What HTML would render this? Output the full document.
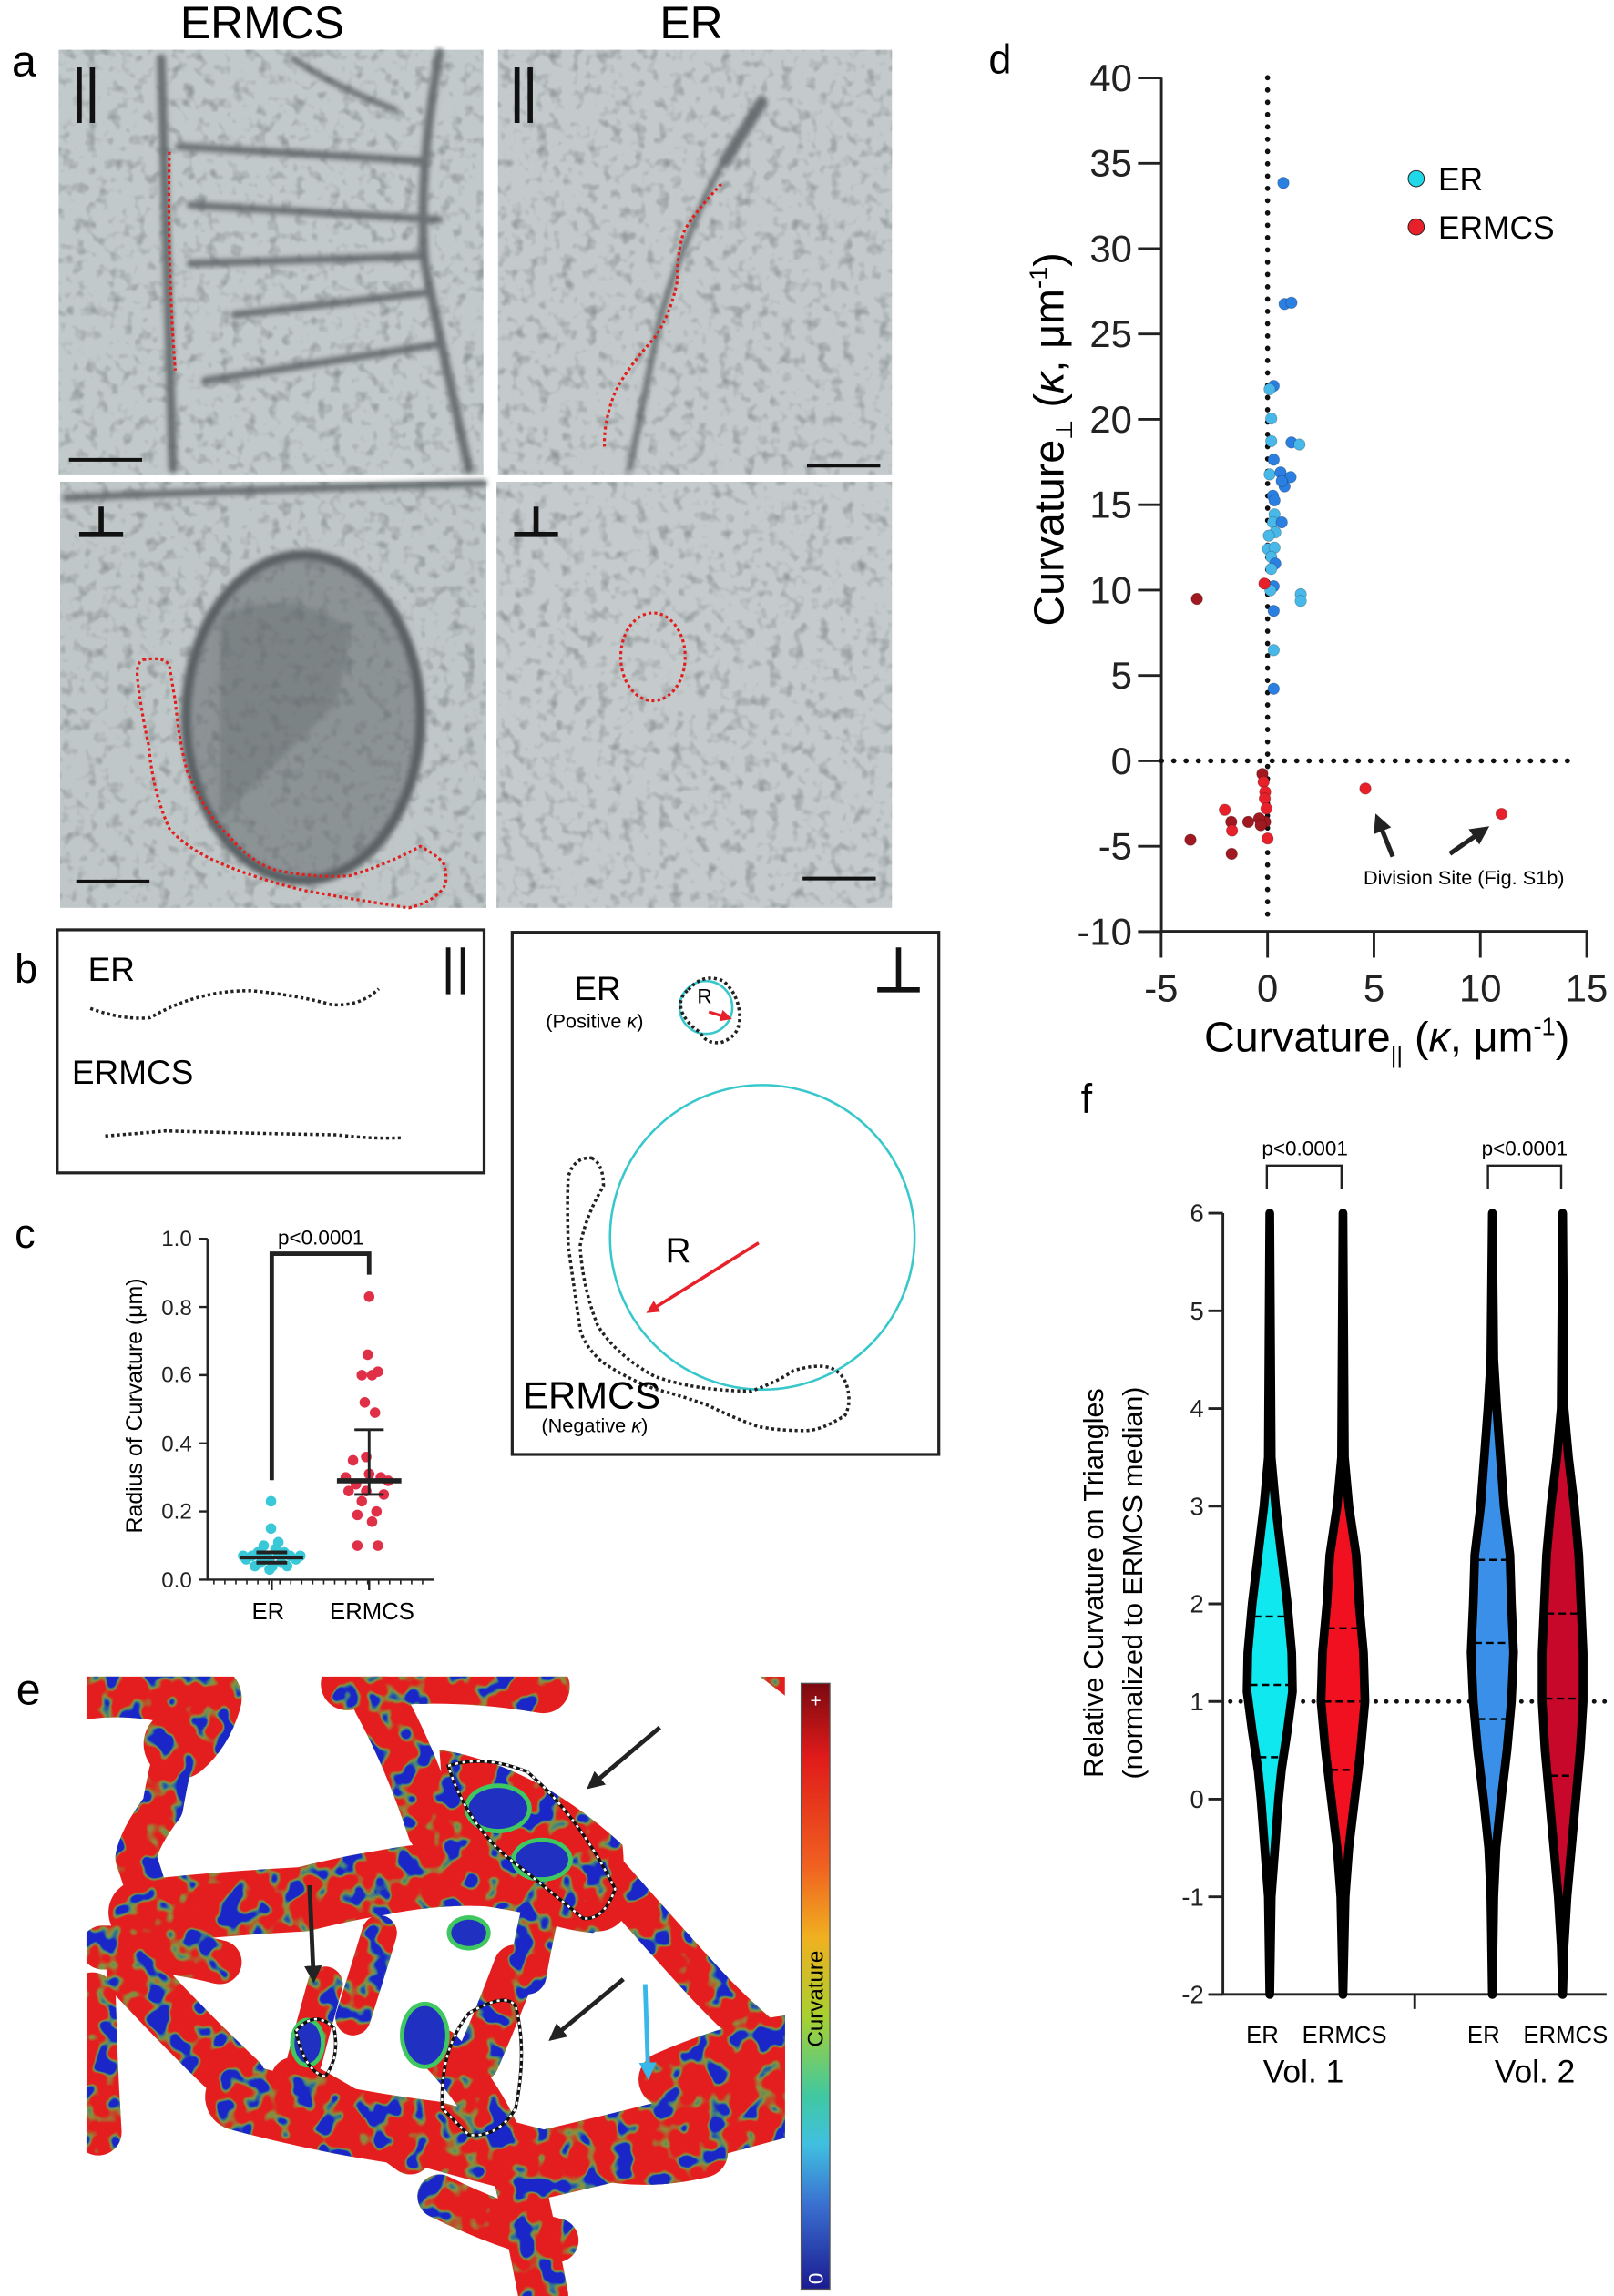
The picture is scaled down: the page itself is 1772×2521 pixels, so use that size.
<!DOCTYPE html>
<html><head><meta charset="utf-8"><style>
html,body{margin:0;padding:0;background:#fff;}
svg{display:block;}
text{font-family:"Liberation Sans",Arial,sans-serif;}
</style></head><body>
<svg id="s" xmlns="http://www.w3.org/2000/svg" width="1772" height="2521" viewBox="0 0 1102 1568">
<defs>
<filter id="noise" x="0" y="0" width="100%" height="100%" color-interpolation-filters="sRGB">
<feTurbulence type="fractalNoise" baseFrequency="0.12" numOctaves="2" seed="3" result="t"/>
<feColorMatrix in="t" type="matrix" values="0 0 0 0 0.38  0 0 0 0 0.41  0 0 0 0 0.42  -2.5 0 0 0 1.2" result="c"/>
<feComposite in="c" in2="SourceGraphic" operator="in"/>
</filter>
<filter id="bl"><feGaussianBlur stdDeviation="1.6"/></filter>
<filter id="grn" x="0" y="0" width="100%" height="100%" color-interpolation-filters="sRGB">
<feTurbulence type="fractalNoise" baseFrequency="0.06" numOctaves="2" seed="7" result="t"/>
<feColorMatrix in="t" type="matrix" values="0 0 0 0 0.35  0 0 0 0 0.82  0 0 0 0 0.3  0 -10 0 0 4.9" result="c"/>
<feComposite in="c" in2="SourceGraphic" operator="in"/>
</filter>
<filter id="blu" x="0" y="0" width="100%" height="100%" color-interpolation-filters="sRGB">
<feTurbulence type="fractalNoise" baseFrequency="0.06" numOctaves="2" seed="7" result="t"/>
<feColorMatrix in="t" type="matrix" values="0 0 0 0 0.1  0 0 0 0 0.15  0 0 0 0 0.78  0 -16 0 0 6.8" result="c"/>
<feComposite in="c" in2="SourceGraphic" operator="in"/>
</filter>
<linearGradient id="cb" x1="0" y1="0" x2="0" y2="1">
<stop offset="0" stop-color="#7a0a10"/><stop offset="0.12" stop-color="#e01a1a"/><stop offset="0.3" stop-color="#f06020"/>
<stop offset="0.42" stop-color="#f0b020"/><stop offset="0.55" stop-color="#a8d030"/><stop offset="0.68" stop-color="#40c8a0"/>
<stop offset="0.76" stop-color="#40c0e0"/><stop offset="0.86" stop-color="#3a70d0"/><stop offset="1" stop-color="#1a1a90"/>
</linearGradient>
<marker id="ah" markerWidth="4" markerHeight="4" refX="2.5" refY="2" orient="auto"><path d="M0,0 L4,2 L0,4 z" fill="#222"/></marker>
<marker id="ahr" markerWidth="4" markerHeight="4" refX="2.5" refY="2" orient="auto"><path d="M0,0 L4,2 L0,4 z" fill="#e8202a"/></marker>
<marker id="ahc" markerWidth="4" markerHeight="4" refX="2.5" refY="2" orient="auto"><path d="M0,0 L4,2 L0,4 z" fill="#38b8e8"/></marker>
</defs>

<!-- Panel a -->
<text x="8" y="52" font-size="30">a</text>
<text x="179" y="26" font-size="31" text-anchor="middle">ERMCS</text>
<text x="472" y="26" font-size="31" text-anchor="middle">ER</text>
<g id="micro">
<rect x="40" y="34" width="290" height="290" fill="#c2c9ca"/>
<rect x="340" y="34" width="269" height="290" fill="#c4cacb"/>
<rect x="41" y="329" width="291" height="291" fill="#c0c7c8"/>
<rect x="339" y="329" width="270" height="291" fill="#c5cbcc"/>
<g filter="url(#bl)" stroke="#6a7173" fill="none" stroke-linecap="round">
<path d="M110 40 L118 320" stroke-width="6"/>
<path d="M122 100 L290 110" stroke-width="5"/>
<path d="M130 140 L300 150" stroke-width="5"/>
<path d="M130 180 L285 175" stroke-width="5"/>
<path d="M160 215 L290 200" stroke-width="5"/>
<path d="M140 260 L300 235" stroke-width="5"/>
<path d="M300 36 Q285 120 290 180 Q300 230 320 320" stroke-width="6"/>
<path d="M200 40 Q230 60 270 75" stroke-width="4"/>
<path d="M505 90 Q470 150 450 220 Q440 270 430 320" stroke-width="4"/>
<path d="M520 70 L495 110" stroke-width="8"/>
<path d="M45 340 Q150 335 330 330" stroke-width="5"/>
</g>
<ellipse cx="207" cy="490" rx="80" ry="111" fill="#8c9395" stroke="#5a6163" stroke-width="7" filter="url(#bl)"/>
<path d="M150 420 Q200 400 240 430 L230 480 Q190 520 150 560 Z" fill="#7c8385" filter="url(#bl)"/>
<g opacity="0.55">
<rect x="40" y="34" width="290" height="290" filter="url(#noise)"/>
<rect x="340" y="34" width="269" height="290" filter="url(#noise)"/>
<rect x="41" y="329" width="291" height="291" filter="url(#noise)"/>
<rect x="339" y="329" width="270" height="291" filter="url(#noise)"/>
</g>
</g>
<g stroke="#111" stroke-width="3.5" fill="none">
<path d="M54 46 V84 M63 46 V84"/><path d="M353 46 V84 M362 46 V84"/>
<path d="M54 365 H84 M69 365 V346"/><path d="M351 365 H381 M366 365 V346"/>
<path d="M47 314 H97 M551 318 H601 M52 602 H102 M548 600 H598" stroke-width="2.5"/>
</g>
<g stroke="#e0201e" stroke-width="2" stroke-dasharray="2 2" fill="none">
<path d="M115.6 103.7 Q114 180 119.6 253"/>
<path d="M492.4 125.6 Q470 150 466.5 159.5 Q462 175 462.5 191.4 Q458 215 446.6 231 Q425 255 418.7 271 Q412 290 412.7 305"/>
<ellipse cx="445.8" cy="448.6" rx="22" ry="30"/>
<path d="M97.7 450.6 Q112 448 115.6 454.5 Q118 470 119.6 478.5 Q122 505 127.6 526.3 Q140 556 155.5 570 Q170 588 187.4 594 Q215 600 239 598 Q265 590 287 578 Q300 585 303 590 Q306 600 303 606 Q296 616 279 620 Q240 614 207 608 Q175 600 151.5 590 Q128 580 115.6 566 Q104 540 101.7 510 Q96 485 93.7 462.5 Q93 452 97.7 450.6 Z"/>
</g>

<!-- Panel b -->
<text x="10" y="671" font-size="28">b</text>
<rect x="39" y="635" width="291.5" height="166" fill="none" stroke="#222" stroke-width="2"/>
<text x="60" y="670" font-size="23">ER</text>
<path d="M61.6 688.7 Q85 697 102.6 695 Q135 676 172 676.6 Q205 680 225.8 686 Q245 688 258.6 675.3" fill="none" stroke="#222" stroke-width="2.2" stroke-dasharray="2 2"/>
<text x="49" y="740" font-size="23">ERMCS</text>
<path d="M71.8 775.8 Q95 774 113 772.3 Q170 774 230 775 Q255 778 274 777" fill="none" stroke="#222" stroke-width="2.2" stroke-dasharray="2 2"/>
<path d="M306 647 V679 M316 647 V679" stroke="#111" stroke-width="3"/>

<rect x="349.7" y="636.7" width="291.3" height="356.6" fill="none" stroke="#222" stroke-width="2"/>
<path d="M599 676 H628 M613.5 676 V647" stroke="#111" stroke-width="3.5"/>
<text x="408" y="683" font-size="23" text-anchor="middle">ER</text>
<text x="406" y="702" font-size="13.5" text-anchor="middle">(Positive <tspan font-style="italic">κ</tspan>)</text>
<circle cx="482" cy="688" r="18" fill="none" stroke="#38c8cc" stroke-width="1.6"/>
<path d="M470 676 Q480 664 494 670 Q505 680 505 695 Q505 708 492 712 Q482 713 478 705 Q470 700 466 692 Q462 682 470 676 Z" fill="none" stroke="#222" stroke-width="2.2" stroke-dasharray="2 2"/>
<text x="481" y="685" font-size="14" text-anchor="middle">R</text>
<path d="M484 691 L497 695" stroke="#e8202a" stroke-width="2" marker-end="url(#ahr)"/>
<circle cx="520.5" cy="845" r="104" fill="none" stroke="#38c8cc" stroke-width="1.6"/>
<path d="M518 848.8 L444 895" stroke="#e8202a" stroke-width="2.2" marker-end="url(#ahr)"/>
<text x="463" y="862" font-size="24" text-anchor="middle">R</text>
<path d="M404 790.8 Q412 795 412 810 Q400 830 396 851 Q398 880 408 905 Q420 925 447 940 Q476 950 513 950 Q530 944 542 936 Q562 930 570.6 936 Q580 942 579.6 958 Q578 968 574.7 968 Q560 977 550 977 Q530 977 517 974 Q500 968 484 960 Q465 953 447 948.6 Q425 940 410.5 929.6 Q398 918 396 907 Q392 880 388 851 Q387 820 388 803.5 Q392 790 404 790.8 Z" fill="none" stroke="#222" stroke-width="2.2" stroke-dasharray="2 2"/>
<text x="404" y="962" font-size="26" text-anchor="middle">ERMCS</text>
<text x="406" y="978" font-size="13.5" text-anchor="middle">(Negative <tspan font-style="italic">κ</tspan>)</text>

<!-- Panel c -->
<text x="10" y="852" font-size="28">c</text>
<g stroke="#222" stroke-width="1.5" fill="none">
<path d="M141.6 846 V1078.8 H296.4"/>
<path d="M136 846 H141.6 M136 892.6 H141.6 M136 939.1 H141.6 M136 985.7 H141.6 M136 1032.2 H141.6 M136 1078.8 H141.6"/>
<path d="M185.5 1078.8 V1086 M252 1078.8 V1086"/>
</g>
<g id="minor" stroke="#222" stroke-width="1"></g>
<g font-size="15" text-anchor="end" fill="#222">
<text x="131" y="851">1.0</text><text x="131" y="898">0.8</text><text x="131" y="944">0.6</text>
<text x="131" y="991">0.4</text><text x="131" y="1037">0.2</text><text x="131" y="1084">0.0</text>
</g>
<text x="183" y="1106" font-size="16" text-anchor="middle">ER</text>
<text x="254" y="1106" font-size="16" text-anchor="middle">ERMCS</text>
<text transform="translate(97,960) rotate(-90)" font-size="15.5" text-anchor="middle">Radius of Curvature (μm)</text>
<path d="M185.5 1010.9 V856.2 H252 V870.5" fill="none" stroke="#222" stroke-width="3"/>
<text x="219" y="850" font-size="14" text-anchor="middle">p&lt;0.0001</text>
<g id="cpts"></g>

<!-- Panel d -->
<text x="675" y="50" font-size="28">d</text>
<g stroke="#222" stroke-width="1.8" fill="none">
<path d="M793 53 V636 H1084"/>
</g>
<g id="dticks" stroke="#222" stroke-width="1.8"></g>
<g font-size="26" text-anchor="end" fill="#222" id="dylab"></g>
<g font-size="26" text-anchor="middle" fill="#222" id="dxlab"></g>
<path d="M865.5 53 V630" stroke="#111" stroke-width="3.5" stroke-dasharray="0.1 8.3" stroke-linecap="round"/>
<path d="M793 519.6 H1074" stroke="#111" stroke-width="3.5" stroke-dasharray="0.1 8.3" stroke-linecap="round"/>
<text transform="translate(726,300) rotate(-90)" font-size="29" text-anchor="middle">Curvature<tspan font-size="16" dy="6">⊥</tspan><tspan dy="-6"> (</tspan><tspan font-style="italic">κ</tspan>, μm<tspan font-size="17" dy="-11">-1</tspan><tspan dy="11">)</tspan></text>
<text x="947" y="718" font-size="29" text-anchor="middle">Curvature<tspan font-size="16" dy="8">||</tspan><tspan dy="-8"> (</tspan><tspan font-style="italic">κ</tspan>, μm<tspan font-size="17" dy="-11">-1</tspan><tspan dy="11">)</tspan></text>
<circle cx="967" cy="122" r="5.5" fill="#20d8e8" stroke="#222" stroke-width="0.6"/>
<text x="982" y="130" font-size="22">ER</text>
<circle cx="967" cy="155" r="5.5" fill="#e8202a" stroke="#222" stroke-width="0.6"/>
<text x="982" y="163" font-size="22">ERMCS</text>
<g id="dpts"></g>
<path d="M951 585 L941 560" stroke="#222" stroke-width="3.2" marker-end="url(#ah)"/>
<path d="M990 583 L1013 567" stroke="#222" stroke-width="3.2" marker-end="url(#ah)"/>
<text x="931" y="604" font-size="13.5">Division Site (Fig. S1b)</text>

<!-- Panel e -->
<text x="11" y="1164" font-size="30">e</text>
<g id="enet"></g>
<rect x="547" y="1149.6" width="19.6" height="413.7" fill="url(#cb)" stroke="#555" stroke-width="0.8"/>
<text x="557" y="1166" font-size="13" fill="#fff" text-anchor="middle">+</text>
<text transform="translate(562,1560) rotate(-90)" font-size="14" fill="#fff">0</text>
<text transform="translate(562,1365) rotate(-90)" font-size="15" text-anchor="middle">Curvature</text>

<!-- Panel f -->
<text x="738" y="760" font-size="28">f</text>
<path d="M835 828.5 V1362 H1097" fill="none" stroke="#222" stroke-width="1.8"/>
<g id="fticks" stroke="#222" stroke-width="1.8"></g>
<g font-size="17" text-anchor="end" fill="#222" id="fylab"></g>
<path d="M966 1362 V1372" stroke="#222" stroke-width="1.8"/>
<path d="M840 1162 H1100" stroke="#111" stroke-width="3" stroke-dasharray="0.1 7" stroke-linecap="round"/>
<g id="viol"></g>
<path d="M865 812 V796 H916 V812 M1016 812 V796 H1066 V812" fill="none" stroke="#222" stroke-width="1.5"/>
<text x="891" y="789" font-size="14" text-anchor="middle">p&lt;0.0001</text>
<text x="1041" y="789" font-size="14" text-anchor="middle">p&lt;0.0001</text>
<g font-size="16" text-anchor="middle">
<text x="862" y="1395">ER</text><text x="918" y="1395">ERMCS</text>
<text x="1013" y="1395">ER</text><text x="1069" y="1395">ERMCS</text>
</g>
<text x="890" y="1422" font-size="22" text-anchor="middle">Vol. 1</text>
<text x="1048" y="1422" font-size="22" text-anchor="middle">Vol. 2</text>
<text transform="translate(753,1081) rotate(-90)" font-size="19" text-anchor="middle">Relative Curvature on Triangles</text>
<text transform="translate(780,1081) rotate(-90)" font-size="19" text-anchor="middle">(normalized to ERMCS median)</text>
</svg>
<script>
var NS="http://www.w3.org/2000/svg";
function el(p,t,a){var e=document.createElementNS(NS,t);for(var k in a)e.setAttribute(k,a[k]);p.appendChild(e);return e;}
var g;
g=document.getElementById("minor");
for(var x=146;x<296;x+=7.5)el(g,"line",{x1:x,y1:1078.8,x2:x,y2:1082});
g=document.getElementById("cpts");
var Y=function(v){return 1078.8-v*232.8;};
var er=[[185,0.23],[185,0.15],[180,0.1],[190,0.11],[176,0.08],[194,0.08],[172,0.07],[198,0.07],[184,0.06],[168,0.06],[202,0.06],[178,0.05],[192,0.05],[186,0.04],[174,0.04],[196,0.04],[184,0.03],[188,0.09],[166,0.07],[205,0.07],[180,0.065],[190,0.075]];
er.forEach(function(p){el(g,"circle",{cx:p[0],cy:Y(p[1]),r:3.6,fill:"#38c8d8"});});
var rm=[[252,0.83],[251,0.66],[247,0.6],[254,0.6],[258,0.61],[249,0.52],[256,0.49],[241,0.35],[252,0.31],[260,0.3],[236,0.3],[243,0.28],[265,0.29],[238,0.26],[250,0.26],[262,0.25],[247,0.23],[257,0.2],[244,0.19],[254,0.17],[244,0.1],[258,0.1],[250,0.36]];
rm.forEach(function(p){el(g,"circle",{cx:p[0],cy:Y(p[1]),r:3.6,fill:"#e03048"});});
el(g,"path",{d:"M164 "+Y(0.065)+" H207 M175 "+Y(0.08)+" H196 M175 "+Y(0.05)+" H196",stroke:"#222","stroke-width":2.5});
el(g,"path",{d:"M230 "+Y(0.29)+" H274",stroke:"#222","stroke-width":3.5});
el(g,"path",{d:"M252 "+Y(0.25)+" V"+Y(0.44)+" M242 "+Y(0.44)+" H262 M242 "+Y(0.25)+" H262",stroke:"#222","stroke-width":1.8});
g=document.getElementById("dticks");var yl=document.getElementById("dylab"),xl=document.getElementById("dxlab");
for(var v=-10;v<=40;v+=5){var yy=519.6-11.66*v;el(g,"line",{x1:777,y1:yy,x2:793,y2:yy});var t=el(yl,"text",{x:773,y:yy+9});t.textContent=v;}
for(var v=-5;v<=15;v+=5){var xx=865.5+14.53*v;el(g,"line",{x1:xx,y1:636,x2:xx,y2:654});var t=el(xl,"text",{x:xx,y:684});t.textContent=v;}
g=document.getElementById("dpts");
function dp(zx,zy,c){el(g,"circle",{cx:671.6+zx/3.625,cy:24.9+zy/2.2,r:3.9,fill:c,stroke:"rgba(0,0,0,0.25)","stroke-width":0.5});}
var D="#2a7fe0",L="#48b8e8",R="#e8202a",K="#a01820";
[[742,220,D],[745,402,D],[762,400,D],[718,525,D],[708,530,L],[712,574,L],[712,608,L],[762,610,D],[782,613,L],[718,636,D],[708,658,L],[735,655,D],[760,662,D],[745,676,D],[738,668,D],[716,690,D],[720,697,D],[720,718,L],[716,730,L],[738,730,D],[722,745,L],[706,750,L],[704,770,L],[720,768,L],[712,782,L],[722,792,D],[712,800,L],[718,826,D],[710,832,L],[785,838,L],[785,848,L],[718,863,D],[718,922,L],[718,980,D],
[528,845,K],[695,822,R],[690,1108,K],[693,1120,R],[697,1135,R],[696,1145,R],[700,1160,R],[697,1180,K],[682,1175,K],[686,1185,K],[655,1180,K],[597,1162,R],[613,1180,K],[615,1193,R],[512,1207,K],[614,1228,K],[703,1205,R],[945,1130,R],[1282,1168,R]].forEach(function(p){dp(p[0],p[1],p[2]);});
g=document.getElementById("fticks");yl=document.getElementById("fylab");
for(var v=-2;v<=6;v++){var yy=1228.7-66.7*v;el(g,"line",{x1:825,y1:yy,x2:835,y2:yy});var t=el(yl,"text",{x:822,y:yy+6});t.textContent=v;}
g=document.getElementById("viol");
function vy(v){return 1228.7-66.7*v;}
function violin(cx,prof,fill,q){
 var l=[],r=[];prof.forEach(function(p){r.push([cx+p[1],vy(p[0])]);l.push([cx-p[1],vy(p[0])]);});
 var d="M"+r.map(function(p){return p[0].toFixed(1)+" "+p[1].toFixed(1);}).join(" L")+" L"+l.reverse().map(function(p){return p[0].toFixed(1)+" "+p[1].toFixed(1);}).join(" L")+"Z";
 el(g,"path",{d:d,fill:fill,stroke:"#000","stroke-width":6,"stroke-linejoin":"round"});
 q.forEach(function(v){var w=0;for(var i=0;i<prof.length-1;i++){if(v<=prof[i][0]&&v>=prof[i+1][0]){var f=(prof[i][0]-v)/(prof[i][0]-prof[i+1][0]);w=prof[i][1]+f*(prof[i+1][1]-prof[i][1]);}}
 el(g,"line",{x1:cx-w+2,x2:cx+w-2,y1:vy(v),y2:vy(v),stroke:"#000","stroke-width":1.5,"stroke-dasharray":"5 3"});});
}
violin(867,[[6,0],[3.5,1],[3,4],[2.5,8],[2,12],[1.5,15],[1.1,15.5],[0.7,12],[0.3,8],[0,6],[-0.5,3.5],[-1,1],[-2,0]],"#10e8f0",[1.87,1.17,0.43]);
violin(917,[[6,0],[3.5,1],[3,4],[2.5,9],[2,11],[1.5,14],[1,15],[0.5,12],[0,8],[-0.5,4],[-1,1.5],[-2,0]],"#f01020",[1.75,1.0,0.3]);
violin(1019,[[6,0],[4.5,1],[4,3],[3,8],[2.5,12],[2,13],[1.5,14.5],[1,13],[0.5,10],[0,6],[-0.5,2.5],[-1,1],[-2,0]],"#3a90e8",[2.45,1.6,0.82]);
violin(1067,[[6,0],[4,1],[3.5,4],[3,8],[2.5,11],[2,12.5],[1.5,14],[1,14],[0.5,12],[0,9],[-0.5,6],[-1,3],[-1.5,1],[-2,0]],"#c8082a",[1.9,1.03,0.24]);
g=document.getElementById("enet");
var cp=el(g,"clipPath",{id:"ec"});el(cp,"rect",{x:59,y:1145,width:477,height:423});
var n=el(g,"g",{"clip-path":"url(#ec)"});
var strands=[
["M59 1150 Q100 1145 141 1160 Q135 1180 122 1191",48],
["M122 1185 Q115 1210 111 1234 Q95 1255 92.7 1269 Q100 1290 104 1306",28],
["M96 1306 Q150 1300 207 1297 Q235 1290 259 1286 Q300 1278 334 1280 Q370 1285 408 1297",44],
["M237 1150 Q300 1140 371 1152",36],
["M259 1162 Q280 1200 296 1249",36],
["M300 1195 Q365 1205 425 1260 Q430 1305 405 1320 Q345 1315 305 1260 Z",0],
["M415 1280 Q450 1320 482 1355 Q510 1385 540 1407",28],
["M163 1432 Q230 1450 296 1458 Q340 1470 371 1478 Q450 1460 540 1435",46],
["M352 1478 Q362 1520 371 1568",34],
["M63 1363 Q64 1410 67 1456",32],
["M92 1349 Q130 1390 163 1421",38],
["M70 1330 Q110 1330 150 1340",30],
["M222 1355 Q215 1380 208 1407",24],
["M259 1320 Q250 1350 241 1378",24],
["M352 1343 Q340 1375 326 1407",30],
["M371 1297 Q365 1320 360 1349",26],
["M455 1420 Q500 1400 540 1395",38],
["M300 1400 Q330 1430 345 1470",30],
["M200 1420 Q240 1440 280 1470",30],
["M300 1500 Q340 1520 380 1530",30],
["M400 1470 Q440 1480 480 1470",34]
];
function drawStrands(par){strands.forEach(function(s){ if(s[1]==0) el(par,"path",{d:s[0],fill:"#e41e1e"}); else el(par,"path",{d:s[0],fill:"none",stroke:"#e41e1e","stroke-width":s[1],"stroke-linecap":"round","stroke-linejoin":"round"});});
el(par,"path",{d:"M519 1145 L536 1145 L536 1158 Z",fill:"#e41e1e"});}
drawStrands(n);
drawStrands(el(n,"g",{filter:"url(#grn)"}));
drawStrands(el(n,"g",{filter:"url(#blu)"}));
var blues=[[340,1235,20,14],[370,1270,18,12],[320,1320,12,9],[290,1390,14,20],[210,1395,9,14]];
blues.forEach(function(b){el(n,"ellipse",{cx:b[0],cy:b[1],rx:b[2]+3,ry:b[3]+3,fill:"#40c860"});el(n,"ellipse",{cx:b[0],cy:b[1],rx:b[2],ry:b[3],fill:"#2030c0"});});
[["M306 1206 Q330 1198 360 1210 Q395 1240 420 1290 Q412 1312 398 1310 Q380 1295 355 1275 Q320 1250 306 1206 Z"],["M302 1440 Q300 1400 320 1375 Q345 1360 352 1370 Q360 1400 352 1440 Q340 1460 320 1458 Z"],["M202 1387 Q215 1372 228 1385 Q232 1405 222 1418 Q208 1415 202 1387 Z"]].forEach(function(p){el(n,"path",{d:p[0],fill:"none",stroke:"#111","stroke-width":2.2});el(n,"path",{d:p[0],fill:"none",stroke:"#fff","stroke-width":1.6,"stroke-dasharray":"2 3"});});
el(g,"path",{d:"M450.5 1179.7 L404 1219",stroke:"#222","stroke-width":3,"marker-end":"url(#ah)"});
el(g,"path",{d:"M211.3 1287.5 L214 1350",stroke:"#222","stroke-width":3,"marker-end":"url(#ah)"});
el(g,"path",{d:"M425.6 1351.6 L378 1391",stroke:"#222","stroke-width":3,"marker-end":"url(#ah)"});
el(g,"path",{d:"M440.5 1355 L442.5 1416",stroke:"#38b8e8","stroke-width":3,"marker-end":"url(#ahc)"});
</script>
</body></html>
